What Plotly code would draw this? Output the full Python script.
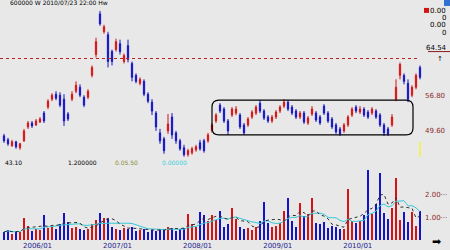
import pandas as pd
import plotly.graph_objects as go

# ---------------- data ----------------
start_date = "2005-08-01"
period_hours = 438  # ~ 20 bars per year
opens = [48.6,47.8,46.6,47.4,46.2,47.6,50.4,51.2,50.8,51.4,53.2,54.4,56.0,57.0,56.8,56.0,53.0,56.0,57.6,58.4,
         56.4,56.4,60.8,65.0,73.2,69.6,69.0,65.6,66.0,67.2,63.6,66.8,63.2,60.8,59.2,59.6,57.0,55.4,53.2,49.2,
         48.0,49.6,52.4,49.2,47.6,46.2,44.8,45.2,45.8,47.2,47.6,47.6,49.6,51.6,54.8,54.0,51.6,52.8,53.2,52.8,
         50.8,50.8,52.4,53.2,55.2,53.6,52.4,51.6,52.4,53.6,54.6,55.4,54.4,53.6,52.4,53.2,51.2,53.0,53.2,52.4,
         54.6,53.2,52.0,50.8,50.0,49.6,50.8,52.8,54.4,53.4,54.0,53.4,53.2,53.6,52.8,50.8,50.0,50.8,56.0,60.8,
         60.8,59.2,56.8,58.4,62.4]
highs = [49.0,48.2,47.8,47.6,47.2,50.0,51.6,51.6,52.0,52.4,53.6,56.0,57.2,57.6,57.4,57.0,53.4,57.6,59.6,59.0,
         56.8,58.0,62.8,68.4,73.8,71.0,69.6,66.0,68.2,68.0,65.2,68.0,63.6,61.2,60.4,60.0,57.4,56.0,53.6,50.0,
         48.4,53.0,53.2,49.6,48.0,46.8,46.0,46.4,46.8,47.8,48.0,49.2,51.2,53.2,55.2,54.4,52.0,54.4,54.6,53.2,
         51.2,52.4,53.8,54.8,55.8,54.0,52.8,52.8,53.8,54.8,56.0,55.8,54.8,54.0,53.6,53.6,52.6,54.6,53.6,52.8,
         55.0,53.6,52.4,51.2,50.4,51.2,52.8,54.4,54.8,54.6,54.4,53.8,54.4,54.0,53.2,51.2,50.4,53.0,60.0,63.4,
         61.2,60.0,58.8,61.2,62.8]
lows = [47.2,46.6,46.4,46.0,45.8,47.4,50.0,50.2,50.6,51.2,51.2,54.0,55.6,55.8,54.4,50.6,51.6,55.6,57.2,56.4,
        54.4,56.0,60.4,64.4,70.8,69.2,62.4,62.8,65.6,65.0,63.2,63.4,59.6,59.2,58.8,56.6,55.2,52.8,49.6,47.0,
        45.0,49.0,48.0,47.0,45.6,44.4,44.4,44.8,45.4,45.6,45.2,47.2,49.2,51.2,53.2,51.2,48.8,52.4,52.8,50.0,
        48.8,50.4,52.0,52.8,53.2,51.8,51.2,51.2,52.0,53.2,54.2,53.6,52.8,52.0,52.0,51.0,50.8,52.6,51.4,50.8,
        52.8,51.2,50.0,49.0,48.6,49.2,50.4,52.4,53.2,53.0,52.4,52.0,52.8,52.0,50.4,48.6,48.6,50.4,55.6,60.0,
        59.0,55.4,56.4,58.0,60.0]
closes = [47.6,47.0,47.4,46.4,47.0,49.6,51.2,50.6,51.6,52.0,51.6,55.6,56.8,56.2,54.8,51.6,52.0,57.0,58.8,56.8,
          54.8,57.6,62.4,67.6,71.2,70.6,63.6,63.6,67.6,65.6,64.8,64.0,60.4,59.6,60.0,57.0,55.6,53.6,50.4,47.6,
          45.6,51.0,48.8,47.6,46.0,44.8,45.6,46.0,46.4,46.0,45.6,48.8,50.8,52.8,53.6,51.6,49.6,54.0,54.0,50.4,
          49.2,52.0,53.4,54.4,53.6,52.2,51.6,52.4,53.4,54.4,55.4,54.0,53.2,52.4,53.2,51.4,52.2,54.0,51.8,51.2,
          53.2,51.6,50.4,49.4,49.0,50.8,52.4,54.0,53.6,54.0,52.8,52.4,54.0,52.4,50.8,49.2,49.0,52.4,58.4,63.0,
          59.6,56.0,58.4,60.8,60.4]
volumes = [0.35,0.45,0.30,0.40,0.35,1.00,0.65,0.40,0.50,0.45,1.10,0.55,0.60,0.50,0.70,1.20,0.80,0.55,0.60,0.50,
           0.45,0.50,0.70,0.90,1.20,1.00,0.95,0.60,0.50,0.45,0.55,0.50,0.60,0.40,0.45,0.50,0.35,0.45,0.40,0.50,
           0.45,0.60,0.55,0.40,0.50,0.55,1.15,0.70,0.60,1.25,1.10,0.85,1.10,0.90,1.30,0.60,0.70,1.40,0.95,0.60,
           0.50,0.55,0.45,0.60,0.85,1.70,0.75,0.60,0.65,0.75,1.30,1.85,0.85,0.60,1.65,1.05,1.15,1.85,0.75,0.70,
           0.80,0.55,0.65,0.60,0.50,0.50,2.26,0.85,0.75,0.85,1.10,3.08,1.15,1.60,2.96,1.20,0.95,1.40,2.74,0.90,
           1.25,0.80,1.25,0.65,1.30]
ref_level = 64.2
last_price_label = "64.54"
tick_dates = ["2006-01-01", "2007-01-01", "2008-01-01", "2009-01-01", "2010-01-01"]
tick_labels = ["2006/01", "2007/01", "2008/01", "2009/01", "2010/01"]
price_ticks = [56.8, 49.6]
price_tick_labels = ["56.80", "49.60"]
vol_ticks = [1, 2]
vol_tick_labels = ["1.00\u00b7\u00b7\u00b7", "2.00\u00b7\u00b7\u00b7"]
title_text = "600000 W 2010/07/23 22:00 Hw"
ma_labels = ["43.10", "1.200000", "0.05.50", "0.00000"]
legend_values = ["0.00", "0", "0.00", "0"]

# ---------------- build ----------------
step = pd.Timedelta(hours=period_hours)
dates = pd.date_range(start_date, periods=len(closes), freq=f"{period_hours}h")
x_range = [dates[0] - step, dates[0] + step * len(closes)]

RED = "#d41414"
BLUE = "#1414c4"
BG = "#e8e8e8"
W_PLOT, H_PLOT = 424, 242


def px(x):
    return x / W_PLOT


def py(y):
    return (H_PLOT - y) / H_PLOT


vol_colors = [RED if c >= o else BLUE for o, c in zip(opens, closes)]
vol_series = pd.Series(volumes)
ma_short = vol_series.rolling(5, min_periods=1).mean()
ma_long = vol_series.rolling(10, min_periods=1).mean()

fig = go.Figure()
fig.add_trace(go.Candlestick(
    x=dates, open=opens, high=highs, low=lows, close=closes,
    increasing=dict(line=dict(color=RED, width=1), fillcolor=RED),
    decreasing=dict(line=dict(color=BLUE, width=1), fillcolor=BLUE),
    whiskerwidth=0, xaxis="x", yaxis="y", showlegend=False, hoverinfo="skip"))
fig.add_trace(go.Bar(
    x=dates, y=volumes, marker=dict(color=vol_colors, line=dict(width=0)),
    width=step.total_seconds() * 1000 * 0.65, xaxis="x", yaxis="y2", showlegend=False))
fig.add_trace(go.Scatter(
    x=dates, y=ma_long, mode="lines", line=dict(color="#38c8d8", width=1),
    xaxis="x", yaxis="y2", showlegend=False))
fig.add_trace(go.Scatter(
    x=dates, y=ma_short, mode="lines", line=dict(color="#303030", width=1, dash="dot"),
    xaxis="x", yaxis="y2", showlegend=False))

split = (H_PLOT - 170) / H_PLOT
fig.update_layout(
    width=450, height=250,
    margin=dict(l=0, r=26, t=0, b=8),
    paper_bgcolor=BG, plot_bgcolor=BG,
    bargap=0, boxgap=0.55,
    font=dict(family="DejaVu Sans", size=7, color="#000000"),
    xaxis=dict(type="date", range=x_range, anchor="y2", rangeslider=dict(visible=False),
               showgrid=False, zeroline=False, showline=False, ticks="",
               tickvals=tick_dates, ticktext=tick_labels,
               tickfont=dict(size=7, color="#1c1c8c", family="DejaVu Sans")),
    yaxis=dict(domain=[split, 1], range=[42, 76], side="right", showgrid=False, zeroline=False,
               tickvals=price_ticks, ticktext=price_tick_labels,
               tickfont=dict(size=7, color="#8b2a2a")),
    yaxis2=dict(domain=[0, split], range=[0, 72 / 23], side="right", showgrid=False, zeroline=False,
                tickvals=vol_ticks, ticktext=vol_tick_labels,
                tickfont=dict(size=7, color="#8b2a2a")),
)

shapes = []
# dashed reference line
shapes.append(dict(type="line", xref="paper", yref="y", x0=0, x1=px(420), y0=ref_level, y1=ref_level,
                   line=dict(color="#c02020", width=1, dash="dot")))
# rounded box
x0, x1, y0, y1, r = 212, 413, 101, 136, 7
path = (f"M {px(x0 + r)},{py(y0)} L {px(x1 - r)},{py(y0)} Q {px(x1)},{py(y0)} {px(x1)},{py(y0 + r)} "
        f"L {px(x1)},{py(y1 - r)} Q {px(x1)},{py(y1)} {px(x1 - r)},{py(y1)} "
        f"L {px(x0 + r)},{py(y1)} Q {px(x0)},{py(y1)} {px(x0)},{py(y1 - r)} "
        f"L {px(x0)},{py(y0 + r)} Q {px(x0)},{py(y0)} {px(x0 + r)},{py(y0)} Z")
shapes.append(dict(type="path", xref="paper", yref="paper", path=path,
                   line=dict(color="#000000", width=1.2)))
# red legend square
shapes.append(dict(type="rect", xref="paper", yref="paper", x0=px(424), x1=px(429), y0=py(13), y1=py(8),
                   fillcolor=RED, line=dict(width=0)))
# underline of last price
shapes.append(dict(type="line", xref="paper", yref="paper", x0=px(428), x1=px(450), y0=py(52), y1=py(52),
                   line=dict(color="#8b1a1a", width=1)))
# yellow marker
shapes.append(dict(type="line", xref="paper", yref="paper", x0=px(420), x1=px(420), y0=py(143), y1=py(158),
                   line=dict(color="#f0f060", width=2)))
# blue corner square
shapes.append(dict(type="rect", xref="paper", yref="paper", x0=px(444), x1=px(450), y0=py(6), y1=py(0),
                   fillcolor="#3070d0", line=dict(width=0)))
fig.update_layout(shapes=shapes)

ann = []


def add_text(x, y, text, color="#000000", size=7, xanchor="left"):
    ann.append(dict(x=px(x), y=py(y), xref="paper", yref="paper", text=text, showarrow=False,
                    xanchor=xanchor, yanchor="middle", font=dict(size=size, color=color)))


add_text(8, 3, title_text, size=6)
add_text(448, 11, legend_values[0], xanchor="right")
add_text(448, 18, legend_values[1], xanchor="right")
add_text(448, 25, legend_values[2], xanchor="right")
add_text(448, 33, legend_values[3], xanchor="right")
add_text(449, 48, last_price_label, xanchor="right")
add_text(440, 59, "\u2191", xanchor="center")
add_text(3, 164, ma_labels[0], size=6)
add_text(66, 164, ma_labels[1], size=6)
add_text(113, 164, ma_labels[2], color="#8a8a30", size=6)
add_text(160, 164, ma_labels[3], color="#40d0d8", size=6)
add_text(436, 244, "\u27a1", size=11, xanchor="center")
fig.update_layout(annotations=ann)

fig.write_html("out.html")
